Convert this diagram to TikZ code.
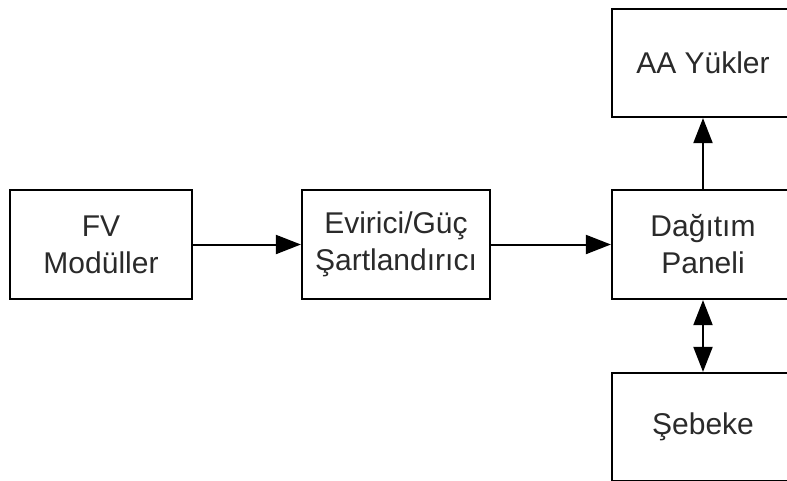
\documentclass[tikz,border=0pt]{standalone}
\usepackage{fontspec}
\setmainfont{Liberation Sans}
\usetikzlibrary{arrows.meta}
\definecolor{txt}{HTML}{2A2A2A}
\begin{document}
\begin{tikzpicture}[x=1pt,y=-1pt,
  blockbox/.style={draw=black,line width=2.2pt,fill=white,inner sep=0pt,
    minimum width=182pt,minimum height=109pt,align=center,text=txt,
    font=\fontsize{30}{37}\selectfont},
  conn/.style={line width=2pt,-{Triangle[length=25pt,width=19pt]}},
  dconn/.style={line width=2pt,{Triangle[length=25pt,width=19pt]}-{Triangle[length=25pt,width=19pt]}}]
\useasboundingbox (0,0) rectangle (787,480);
\clip (0,0) rectangle (787,480);
\fill[white] (0,0) rectangle (787,480);
\node[blockbox] (fv) at (101,244.5) {FV\\Modüller};
\node[blockbox,minimum width=188pt] (inv) at (396,244.5) {Evirici/Güç\\Şartlandırıcı};
\node[blockbox] (dp) at (703,244.5) {Dağıtım\\Paneli};
\node[blockbox,minimum height=108pt] (aa) at (703,63) {AA Yükler};
\node[blockbox,minimum height=108pt] (grid) at (703,427) {Şebeke};
\draw[conn] (fv.east) -- (inv.west);
\draw[conn] (inv.east) -- (dp.west);
\draw[conn] (dp.north) -- (aa.south);
\draw[dconn] (dp.south) -- (grid.north);
\end{tikzpicture}
\end{document}
